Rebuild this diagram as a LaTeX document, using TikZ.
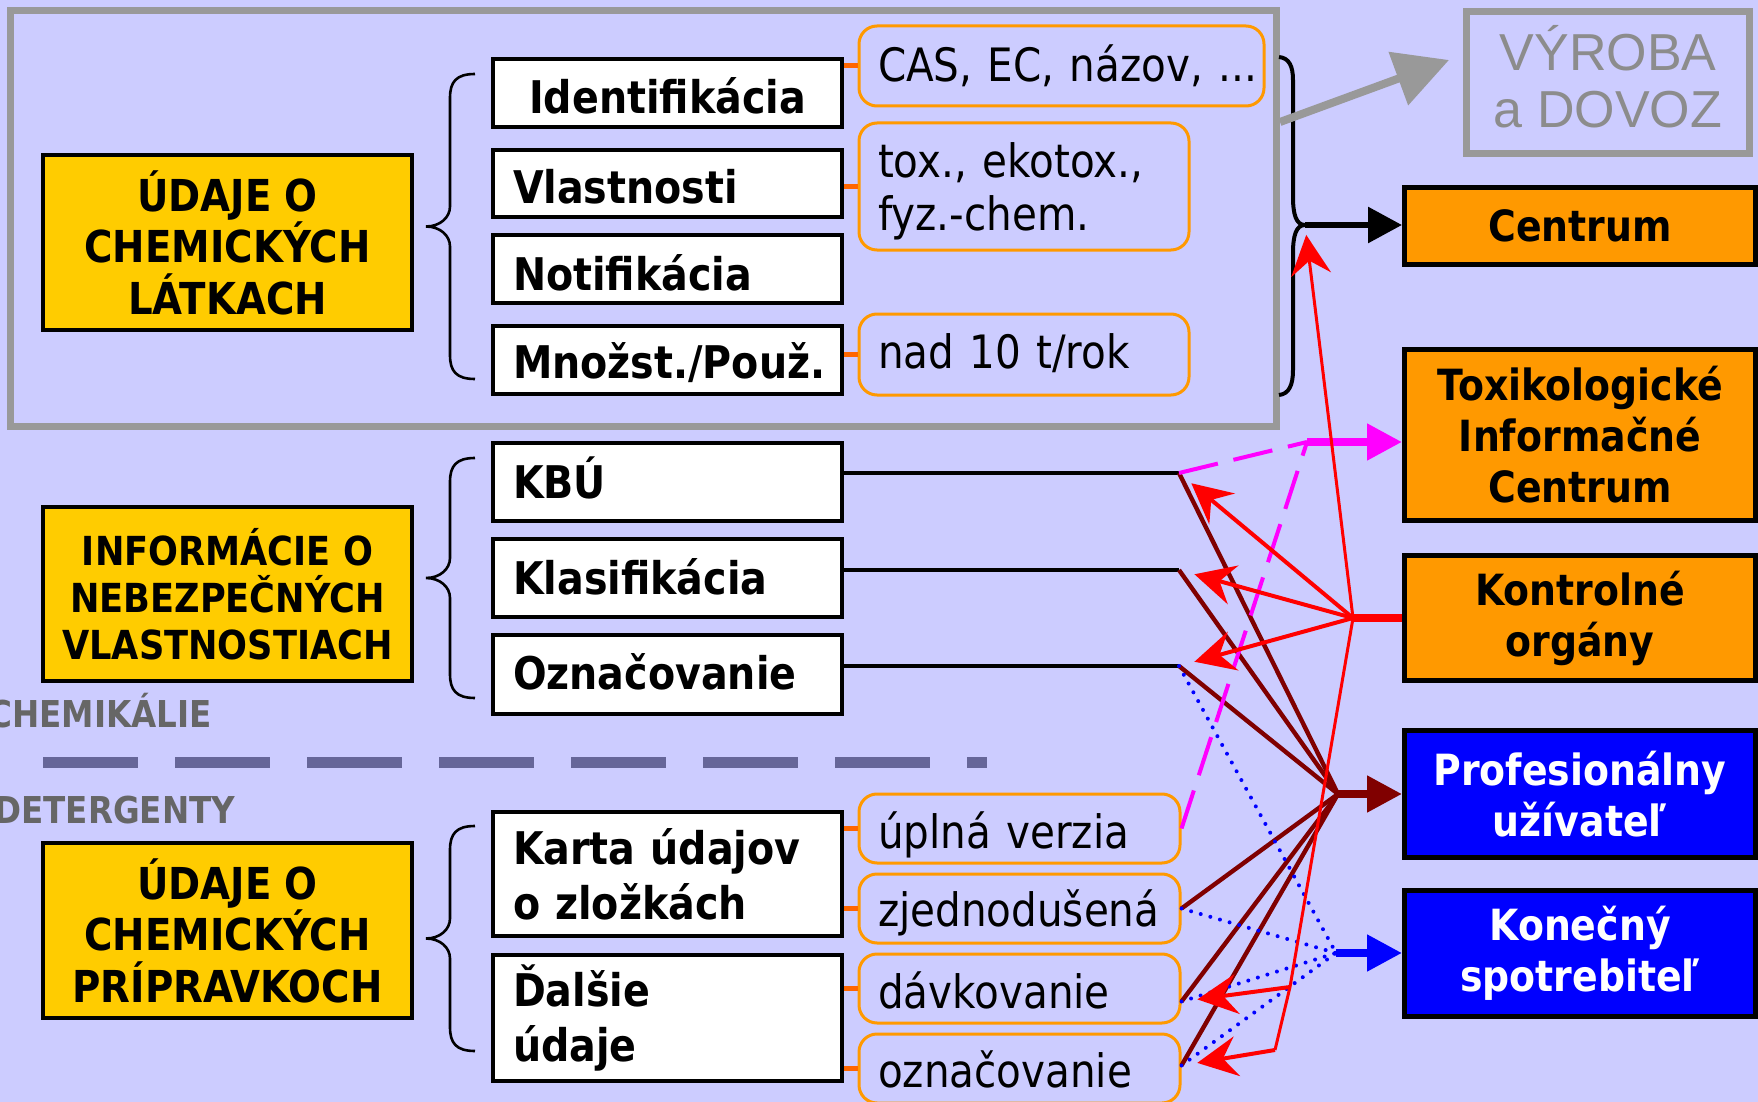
\documentclass[tikz,border=0pt]{standalone}
\usepackage{fontspec}
\setmainfont{DejaVu Sans}[FakeStretch=0.88]
\newfontfamily\arialf{Liberation Sans}
\usetikzlibrary{arrows.meta}
\definecolor{bgC}{HTML}{CCCCFF}
\definecolor{yelC}{HTML}{FFCC00}
\definecolor{orC}{HTML}{FF9900}
\definecolor{tickC}{HTML}{FF6600}
\definecolor{frameC}{HTML}{999999}
\definecolor{vyrC}{HTML}{8C8C8C}
\definecolor{sepC}{HTML}{666699}
\definecolor{labC}{HTML}{666666}
\definecolor{dredC}{HTML}{800000}
\definecolor{magC}{HTML}{FF00FF}
\newcommand\leftbrc[3]{\draw[brc] (475,#1) .. controls (456,#1) and (450,#1+8) .. (450,#1+24) -- (450,#2-20) .. controls (450,#2-9) and (440,#2) .. (426,#2) .. controls (440,#2) and (450,#2+9) .. (450,#2+20) -- (450,#3-24) .. controls (450,#3-8) and (456,#3) .. (475,#3);}
\begin{document}
\begin{tikzpicture}[x=0.5pt,y=-0.5pt,
  ybox/.style={draw=black, line width=2pt, fill=yelC, align=center, font=\bfseries\fontsize{22}{25.75}\selectfont, minimum width=184.5pt, minimum height=87.5pt, inner sep=0pt},
  wbox/.style={draw=black, line width=2pt, fill=white, font=\bfseries\fontsize{22.5}{27.5}\selectfont, minimum width=174.5pt, inner xsep=10pt, inner ysep=0pt, text width=154.5pt, align=left},
  obox/.style={draw=orC, line width=1.5pt, rounded corners=9pt, font=\fontsize{23}{26.5}\selectfont, inner xsep=9.5pt, inner ysep=0pt, align=left},
  rbox/.style={draw=black, line width=2.5pt, fill=orC, font=\bfseries\fontsize{21.5}{25.5}\selectfont, align=center, minimum width=175.5pt, inner sep=0pt},
  bbox/.style={rbox, fill=blue, text=white},
  lab/.style={font=\bfseries\fontsize{18.5}{20}\selectfont, text=labC, inner sep=0pt},
  brc/.style={line width=1.3pt},
  tck/.style={tickC, line width=2.5pt},
  blk/.style={line width=2pt},
  drl/.style={dredC, line width=2.2pt},
  bdot/.style={blue, line width=2pt, line cap=round, dash pattern=on 0pt off 5pt},
  mdash/.style={magC, line width=2pt, dash pattern=on 20pt off 8pt},
  rarr/.style={red, line width=2pt, -{Stealth[length=20pt,width=20pt,inset=7pt]}, shorten >=8pt},
  bigtri/.style={-{Triangle[length=17.5pt,width=17.5pt]}, line width=4pt}
]
\useasboundingbox (0,0) rectangle (1758,1102);
\fill[bgC] (0,0) rectangle (1758,1102);

% frame
\node[draw=frameC, line width=3.5pt, minimum width=633pt, minimum height=208pt, inner sep=0pt] (frame) at (643.5,218.5) {};

% separator and labels
\draw[sepC, line width=5.5pt, dash pattern=on 47.5pt off 18.5pt] (43,762) -- (987,762);
\node[lab, anchor=base west] (chem) at (-12,727) {CHEMIKÁLIE};
\node[lab, anchor=base west] (det) at (-6,823) {DETERGENTY};

% yellow boxes
\node[ybox] (udl) at (227.5,242.5) {ÚDAJE O\\CHEMICKÝCH\\LÁTKACH};
\node[ybox, minimum height=87pt, font=\bfseries\fontsize{20}{23.5}\selectfont] (inf) at (227.5,594) {INFORMÁCIE O\\NEBEZPEČNÝCH\\VLASTNOSTIACH};
\node[ybox] (udp) at (227.5,930.5) {ÚDAJE O\\CHEMICKÝCH\\PRÍPRAVKOCH};

% braces
\leftbrc{74}{226.5}{379}
\leftbrc{458}{578}{698}
\leftbrc{826}{938.5}{1051}

% white boxes
\node[wbox, align=center, minimum height=34pt, text height=21pt, text depth=0pt] (ident) at (667.5,93) {Identifikácia};
\node[wbox, minimum height=33.5pt, text height=20.5pt, text depth=0pt] (vlast) at (667.5,183.5) {Vlastnosti};
\node[wbox, minimum height=34pt, text height=21pt, text depth=0pt] (notif) at (667.5,269) {Notifikácia};
\node[wbox, minimum height=34pt, text height=18pt, text depth=0pt] (mnoz) at (667.5,360) {Množst./Použ.};
\node[wbox, minimum height=39pt, text height=16pt, text depth=0pt] (kbu) at (667.5,482) {KBÚ};
\node[wbox, minimum height=39pt, text height=16pt, text depth=0pt] (klas) at (667.5,578) {Klasifikácia};
\node[wbox, minimum height=39.5pt, text height=15pt, text depth=0pt] (ozn) at (667.5,674.5) {Označovanie};
\node[wbox, minimum height=62pt] (karta) at (667.5,874) {Karta údajov\\o zložkách};
\node[wbox, minimum height=63pt] (dalsie) at (667.5,1018) {Ďalšie\\údaje};

% orange rounded boxes
\node[obox, text width=183.5pt, minimum height=40pt, text height=16pt, text depth=0pt] (cas) at (1061.5,66) {\mbox{CAS, EC, názov, ...}};
\node[obox, text width=146pt, minimum height=63.5pt, text height=22pt] (tox) at (1024,186.5) {tox., ekotox.,\\fyz.-chem.};
\node[obox, text width=146pt, minimum height=40.5pt, text height=14pt, text depth=0pt] (nad) at (1024,354.5) {nad 10 t/rok};
\node[obox, text width=141.5pt, minimum height=34.5pt, text height=19.5pt, text depth=0pt] (upl) at (1019.5,828.5) {úplná verzia};
\node[obox, text width=141.5pt, minimum height=34.5pt, text height=18pt, text depth=0pt] (zjed) at (1019.5,908.5) {zjednodušená};
\node[obox, text width=141.5pt, minimum height=34.5pt, text height=19.5pt, text depth=0pt] (davk) at (1019.5,988.5) {dávkovanie};
\node[obox, text width=141.5pt, minimum height=34.5pt, text height=18.5pt, text depth=0pt] (ozna) at (1019.5,1068.5) {označovanie};

% ticks
\draw[tck] (ident.east |- cas.west) -- (cas.west);
\draw[tck] (vlast.east |- tox.west) -- (tox.west);
\draw[tck] (mnoz.east |- nad.west) -- (nad.west);
\draw[tck] (karta.east |- upl.west) -- (upl.west);
\draw[tck] (karta.east |- zjed.west) -- (zjed.west);
\draw[tck] (dalsie.east |- davk.west) -- (davk.west);
\draw[tck] (dalsie.east |- ozna.west) -- (ozna.west);

% right boxes
\node[draw=frameC, line width=3.5pt, minimum width=141.5pt, minimum height=71pt, inner sep=0pt, align=center, text=vyrC, font=\arialf\fontsize{26}{28.5}\selectfont, text depth=6.5pt] (vyr) at (1608,82.5) {VÝROBA\\a DOVOZ};
\node[rbox, minimum height=38.5pt] (cent) at (1580,226) {Centrum};
\node[rbox, minimum height=85.5pt] (tic) at (1580,435) {Toxikologické\\Informačné\\Centrum};
\node[rbox, minimum height=62.5pt] (kont) at (1580,618) {Kontrolné\\orgány};
\node[bbox, minimum height=63.5pt] (prof) at (1580,794) {Profesionálny\\užívateľ};
\node[bbox, minimum height=63pt] (kon) at (1580,953.5) {Konečný\\spotrebiteľ};

% right brace and arrows at the top
\draw[line width=2pt] (1279,57) .. controls (1289,58) and (1293,66) .. (1293,80) -- (1293,197) .. controls (1293,214) and (1296,225) .. (1305,225) .. controls (1296,225) and (1293,236) .. (1293,253) -- (1293,370) .. controls (1293,385) and (1289,394) .. (1279,395);
\coordinate (btip) at (1305,225);
\draw[line width=3pt, -{Triangle[length=17pt,width=17.5pt]}] (btip) -- (cent.west |- btip);
\coordinate (gy) at (0,122);
\coordinate (gtip) at (1449,60);
\draw[frameC, line width=4pt, -{Triangle[length=27pt,width=27.5pt]}] (frame.east |- gy) -- (gtip);

% connection points
\coordinate (k1) at (1179,473);
\coordinate (k2) at (1179,570);
\coordinate (k3) at (1179,666);
\coordinate (zpt) at (zjed.east);
\coordinate (dpt) at ([yshift=-6.5pt]davk.east);
\coordinate (opt) at ([yshift=1.5pt]ozna.east);
\coordinate (P) at (1338,794);
\coordinate (B) at (1336,953);
\coordinate (M) at (1307,442);
\coordinate (K) at (1353,618);
\coordinate (R1) at (1290,987);
\coordinate (R2) at (1275,1050);

\draw[blk] (kbu.east |- k1) -- (k1);
\draw[blk] (klas.east |- k2) -- (k2);
\draw[blk] (ozn.east |- k3) -- (k3);

% dark red to Profesionalny
\draw[drl] (k1) -- (P);
\draw[drl] (k2) -- (P);
\draw[drl] (k3) -- (P);
\draw[drl] (zpt) -- (P);
\draw[drl] (dpt) -- (P);
\draw[drl] (opt) -- (P);
\draw[dredC, bigtri] (P) -- (prof.west |- P);

% blue dotted to Konecny
\draw[bdot] (k3) -- (B);
\draw[bdot] (zpt) -- (B);
\draw[bdot] (dpt) -- (B);
\draw[bdot] (opt) -- (B);
\draw[blue, bigtri] (B) -- (kon.west |- B);

% magenta to TIC
\draw[mdash] (k1) -- (M);
\draw[mdash] (upl.east) -- (M);
\draw[magC, bigtri] (M) -- (tic.west |- M);

% red from Kontrolne organy
\draw[red, line width=4pt] (kont.west) -- (K);
\draw[rarr] (K) -- (k1);
\draw[rarr] (K) -- (k2);
\draw[rarr] (K) -- (k3);
\draw[red, line width=1.5pt, -{Stealth[length=20pt,width=20pt,inset=7pt]}, shorten >=5pt] (K) -- (btip);
\draw[red, line width=1.5pt] (K) -- (R1) -- (R2);
\draw[rarr] (R1) -- (dpt);
\draw[rarr] (R2) -- (opt);
\end{tikzpicture}
\end{document}
